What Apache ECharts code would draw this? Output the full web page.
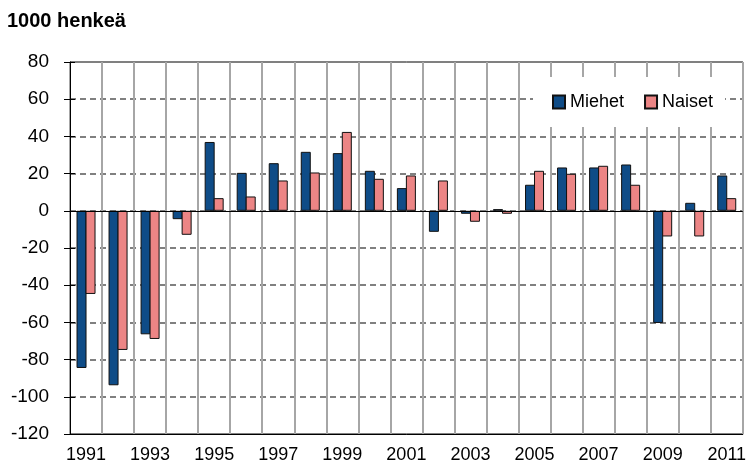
<!DOCTYPE html>
<html>
<head>
<meta charset="utf-8">
<script src="https://cdn.jsdelivr.net/npm/echarts@6/dist/echarts.min.js"></script>
<style>
  html, body { margin: 0; padding: 0; background: #fff; }
  #chart { width: 749px; height: 464px; }
</style>
</head>
<body>
<div id="chart"></div>
<script>
// vuodet
var years = ["1991", "1992", "1993", "1994", "1995", "1996", "1997", "1998", "1999", "2000",
  "2001", "2002", "2003", "2004", "2005", "2006", "2007", "2008", "2009", "2010", "2011"];
// 1000 henkeä
var miehet = [-84.5, -93.8, -66.4, -4.5, 37, 20.4, 25.6, 31.7, 31, 21.5,
  12.2, -11.3, -1.6, 0.9, 14, 23.3, 23.3, 24.9, -60.3, 4.3, 19];
var naiset = [-44.7, -74.8, -68.9, -12.9, 6.8, 7.7, 16.3, 20.6, 42.4, 17.2,
  19, 16.3, -5.9, -1.6, 21.5, 19.9, 24.2, 14, -13.8, -13.8, 6.8];
var seriesNames = ["Miehet", "Naiset"];

var font = "'Liberation Sans', Arial, sans-serif";
var myChart = echarts.init(document.getElementById("chart"));

var opt = {
  animation: false,
  color: ["#0F4C87", "#EC8585"],
  title: {
    text: "1000 henkeä",
    left: 3,
    top: 11,
    padding: [0, 4, 0, 4],
    textStyle: { fontFamily: font, fontSize: 20, fontWeight: "bold", color: "#000" }
  },
  legend: {
    data: seriesNames,
    left: 533,
    top: 77,
    icon: "rect",
    itemWidth: 12,
    itemHeight: 13,
    itemGap: 20,
    backgroundColor: "#fff",
    padding: [16, 12, 16, 19],
    textStyle: { fontFamily: font, fontSize: 18, color: "#000" }
  },
  grid: {
    left: 70,
    right: 2,
    top: 62,
    bottom: 30,
    show: true,
    borderColor: "#000",
    borderWidth: 1
  },
  xAxis: {
    type: "category",
    data: years,
    boundaryGap: true,
    axisLine: { onZero: false, lineStyle: { color: "#000" } },
    axisTick: { show: false },
    axisLabel: {
      interval: 1,
      margin: 12,
      fontFamily: font,
      fontSize: 18,
      color: "#000"
    },
    splitLine: {
      show: true,
      interval: 0,
      lineStyle: { color: "#a6a6a6", width: 2, type: "solid" }
    }
  },
  yAxis: [
    {
      type: "value",
      min: -120,
      max: 80,
      interval: 20,
      axisLine: { show: true, lineStyle: { color: "#000" } },
      axisTick: { show: true, length: 6, lineStyle: { color: "#000" } },
      axisLabel: { margin: 21, fontFamily: font, fontSize: 19, color: "#000" },
      splitLine: {
        show: true,
        lineStyle: { color: "#808080", width: 2, type: [6, 4] }
      }
    },
    {
      // vain sisäpuoliset tikit
      type: "value",
      position: "left",
      min: -120,
      max: 80,
      interval: 20,
      axisLine: { show: false },
      axisTick: { show: true, inside: true, length: 5, lineStyle: { color: "#000" } },
      axisLabel: { show: false },
      splitLine: { show: false }
    }
  ],
  series: [
    {
      name: seriesNames[0],
      type: "bar",
      data: miehet,
      barWidth: 10,
      barGap: "-10%",
      itemStyle: { borderColor: "#111", borderWidth: 1 },
      markLine: {
        silent: true,
        symbol: "none",
        label: { show: false },
        lineStyle: { color: "#000", width: 1, type: "solid" },
        data: [{ yAxis: 0 }]
      }
    },
    {
      name: seriesNames[1],
      type: "bar",
      data: naiset,
      barWidth: 10,
      barGap: "-10%",
      itemStyle: { borderColor: "#111", borderWidth: 1 }
    }
  ]
};

myChart.setOption(opt);
</script>
</body>
</html>
